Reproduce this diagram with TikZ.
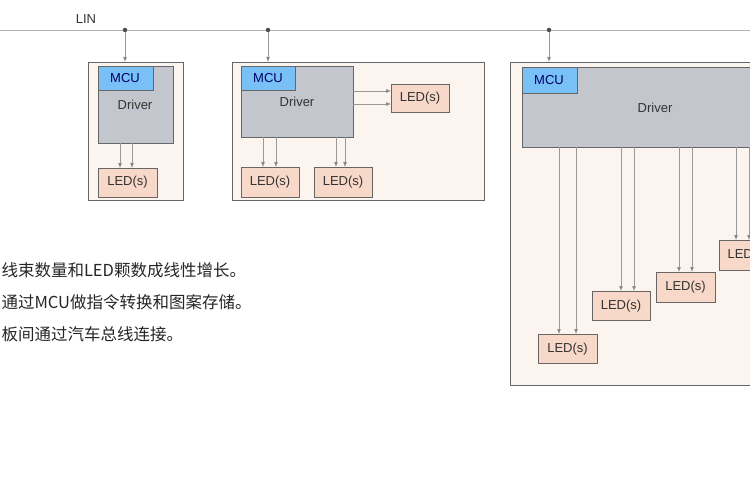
\documentclass[tikz,border=0pt]{standalone}
\usepackage{fontspec}
\setmainfont{Liberation Sans}
\newfontfamily\cjk{Noto Sans CJK SC}
\usetikzlibrary{arrows.meta}
\definecolor{outerc}{HTML}{FCF4EF}
\definecolor{drvc}{HTML}{C3C6CC}
\definecolor{mcuc}{HTML}{78C0F5}
\definecolor{ledc}{HTML}{F8D8C8}
\definecolor{linec}{HTML}{666666}
\begin{document}
\begin{tikzpicture}[x=1pt,y=-1pt,
  outer/.style={draw=linec,fill=outerc,line width=0.9pt},
  drv/.style={draw=linec,fill=drvc,line width=0.9pt},
  mcu/.style={draw=linec,fill=mcuc,line width=0.9pt},
  led/.style={draw=linec,fill=ledc,line width=0.9pt},
  lbl/.style={font=\fontsize{13}{15}\selectfont,text=black!80},
  txt/.style={anchor=west,font=\cjk\fontsize{16.5}{19}\selectfont,text=black!85},
  arr/.style={draw=gray!80,line width=0.6pt,-{Latex[length=5pt,width=4pt,fill=black!65]}},
  dot/.style={circle,fill=black!70,inner sep=0pt,minimum size=4.5pt}]
\useasboundingbox (0,0) rectangle (750,500);
\draw[gray!60,line width=0.8pt] (0,30) -- (750,30);
\node[lbl,anchor=center] (lin) at (86,19) {LIN};
% box1
\draw[outer] (88,62) rectangle (183,200);
\draw[drv] (98,66) rectangle (173,143);
\node[lbl] (d1) at (135,105) {Driver};
\draw[mcu] (98,66) rectangle (153,90);
\node[lbl,text=blue!40!black] (m1) at (125,78) {MCU};
\draw[led] (98,168) rectangle (157,197);
\node[lbl] (l1) at (127.5,182.5) {LED(s)};
\node[dot] (p1) at (125,30) {};
\coordinate (t1) at (125,62);
\draw[arr] (p1) -- (t1);
\foreach \x in {120,132}{\draw[arr] (\x,143) -- (\x,168);}
% box2
\draw[outer] (232,62) rectangle (484,200);
\draw[drv] (241,66) rectangle (353,137);
\node[lbl] (d2) at (297,102) {Driver};
\draw[mcu] (241,66) rectangle (295,90);
\node[lbl,text=blue!40!black] (m2) at (268,78) {MCU};
\draw[led] (241,167) rectangle (299,197);
\node[lbl] (l2) at (270,182) {LED(s)};
\draw[led] (314,167) rectangle (372,197);
\node[lbl] (l3) at (343,182) {LED(s)};
\draw[led] (391,84) rectangle (449,112);
\node[lbl] (l4) at (420,98) {LED(s)};
\node[dot] (p2) at (268,30) {};
\coordinate (t2) at (268,62);
\draw[arr] (p2) -- (t2);
\foreach \x in {263,276,336,345}{\draw[arr] (\x,137) -- (\x,167);}
\foreach \y in {91,104}{\draw[arr] (353,\y) -- (391,\y);}
% box3
\draw[outer] (510,62) rectangle (760,385);
\draw[drv] (522,67) rectangle (760,147);
\node[lbl] (d3) at (655,108) {Driver};
\draw[mcu] (522,67) rectangle (577,93);
\node[lbl,text=blue!40!black] (m3) at (549,80) {MCU};
\node[dot] (p3) at (549,30) {};
\coordinate (t3) at (549,62);
\draw[arr] (p3) -- (t3);
\draw[led] (538,334) rectangle (597,363);
\node[lbl] (l5) at (567.5,349) {LED(s)};
\draw[led] (592,291) rectangle (650,320);
\node[lbl] (l6) at (621,306) {LED(s)};
\draw[led] (656,272) rectangle (715,302);
\node[lbl] (l7) at (685.5,287) {LED(s)};
\draw[led] (719,240) rectangle (778,270);
\node[lbl,anchor=west] (l8) at (724,255) {LED(s)};
\foreach \x/\y in {559/334,576/334,621/291,634/291,679/272,692/272,736/240,749/240}{\draw[arr] (\x,147) -- (\x,\y);}
% text
\node[txt] (tx1) at (-2,270) {线束数量和LED颗数成线性增长。};
\node[txt] (tx2) at (-2,302) {通过MCU做指令转换和图案存储。};
\node[txt] (tx3) at (-2,334) {板间通过汽车总线连接。};
\end{tikzpicture}
\end{document}
